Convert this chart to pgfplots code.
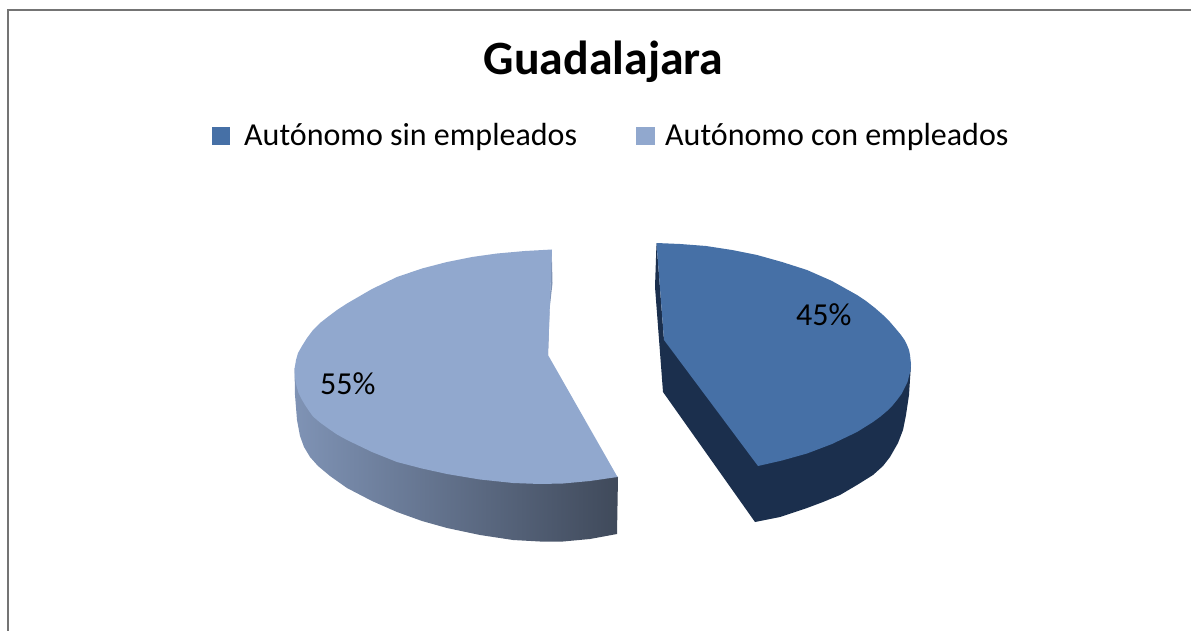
\documentclass[border=0pt]{standalone}
\usepackage{pgfplots}
\pgfplotsset{compat=1.18}
\usepackage{fontspec}
\setmainfont{Carlito}
\definecolor{topA}{HTML}{4670A6}
\definecolor{sideA}{HTML}{1B2F4D}
\definecolor{topB}{HTML}{91A8CE}
\definecolor{sliverB}{HTML}{7F93B5}
\definecolor{frame}{HTML}{747474}
\begin{document}
\begin{tikzpicture}
\useasboundingbox (0,0) rectangle (1191pt,631pt);
\begin{axis}[
  scale only axis, width=1191pt, height=631pt,
  xmin=0, xmax=1191, ymin=0, ymax=631, y dir=reverse,
  hide axis, clip=true,
]
% frame
\addplot[frame, line width=2pt] coordinates {(8,631) (8,10) (1191,10)};
% slice: Autonomo con empleados (55%) - side wall
\addplot[draw=none, left color=sliverB, middle color=sliverB!60!black!100, right color=sliverB!50!black, forget plot] coordinates {
(294.5,368) (295,395) (297,420) (300,436) (304,447) (310,457) (318,466) (330,476) (347,488) (372,501) (397,512) (422,521) (447,528) (480,535) (513,540) (540,541.5) (563,541.5) (590,539) (617,534) (618,477)} -- cycle;
\addplot[draw=none, fill=sliverB] coordinates {(551.7,249.3) (552.5,283) (545,350) (548,355)} -- cycle;
% top
\addplot[draw=none, fill=topB] coordinates {
(552,249.5) (525,251) (497,253.5) (472,257) (447,262) (422,268.5) (397,277) (372,289) (347,303.5) (337,310) (329,316) (320,323) (313,330) (307,338) (302,346) (298,353) (296,360) (294.5,369) (295,378) (296.5,386) (298.5,393) (301.5,399) (305,405) (309,411) (313,416.5) (320,422.5) (329,429) (337,434.5) (347,440) (372,452) (397,462) (422,468.5) (447,474) (480,479.5) (513,483) (540,484) (563,483.5) (590,481) (617.5,477) (548,355)} -- cycle;
% slice: Autonomo sin empleados (45%) - side wall
\addplot[draw=none, fill=sideA] coordinates {
(656.5,243) (655,287) (663,392) (755,522) (780,517) (807,508) (823,502) (840,495) (857,485) (873,475) (883,466) (890,457) (898,443) (903,430) (906,415) (909,395) (911,364) (664,340)} -- cycle;
% top
\addplot[draw=none, fill=topA] coordinates {
(656.5,243) (680,244) (706,246) (732,250) (757,255) (782,262) (807,270) (832,281) (857,295) (866,301) (875,308) (883,315) (890,322) (896,329) (901,335) (904.5,340) (907,345) (909,350) (910,355) (911,364) (910.5,371) (909,376) (907.5,382) (905,387) (901.5,394) (897,400) (892.5,405.5) (887,411) (880.5,416.5) (873,422) (865,427) (857,432) (832,444) (807,453.5) (782,460.5) (758,466) (664,340)} -- cycle;
% legend keys
\addplot[draw=none, fill=topA] coordinates {(212,127) (230,127) (230,145) (212,145)} -- cycle;
\addplot[draw=none, fill=topB] coordinates {(636,127) (655,127) (655,145) (636,145)} -- cycle;
% text
\node[anchor=base, font=\fontsize{47.8}{48}\selectfont\bfseries, inner sep=0pt] at (axis cs:603.5,75) {Guadalajara};
\node[anchor=base west, font=\fontsize{32}{33}\selectfont, inner sep=0pt] at (axis cs:244,146) {Autónomo sin empleados};
\node[anchor=base west, font=\fontsize{32}{33}\selectfont, inner sep=0pt] at (axis cs:665,146) {Autónomo con empleados};
\node[anchor=base west, font=\fontsize{32}{33}\selectfont, inner sep=0pt] at (axis cs:796,325) {45\%};
\node[anchor=base west, font=\fontsize{32}{33}\selectfont, inner sep=0pt] at (axis cs:320,394) {55\%};
\end{axis}
\end{tikzpicture}
\end{document}
